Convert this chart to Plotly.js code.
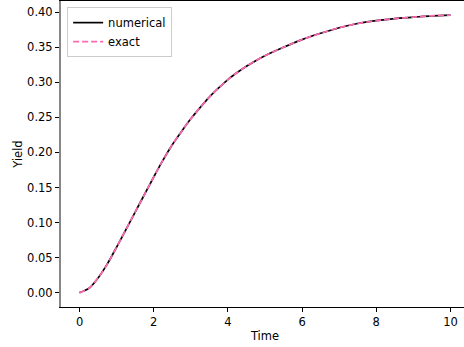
<!DOCTYPE html>
<html>
<head>
<meta charset="utf-8">
<script src="https://cdn.plot.ly/plotly-3.0.1.min.js"></script>
<style>
html, body { margin: 0; padding: 0; overflow: hidden; background: #fff; }
#chart { width: 470px; height: 347px; }
</style>
</head>
<body>
<div id="chart"></div>
<script>
var time = [0, 0.25, 0.5, 0.75, 1.0, 1.25, 1.5, 1.75, 2.0, 2.25, 2.5, 2.75, 3.0, 3.25, 3.5, 3.75, 4.0, 4.25, 4.5, 4.75, 5.0, 5.5, 6.0, 6.5, 7.0, 7.5, 8.0, 8.5, 9.0, 9.5, 10.0];
var numerical = [0, 0.006, 0.021, 0.041, 0.065, 0.090, 0.115, 0.140, 0.165, 0.189, 0.211, 0.230, 0.248, 0.264, 0.279, 0.292, 0.304, 0.314, 0.323, 0.331, 0.338, 0.350, 0.361, 0.370, 0.378, 0.384, 0.388, 0.391, 0.393, 0.395, 0.396];
var exact = [0, 0.006, 0.021, 0.041, 0.065, 0.090, 0.115, 0.140, 0.165, 0.189, 0.211, 0.230, 0.248, 0.264, 0.279, 0.292, 0.304, 0.314, 0.323, 0.331, 0.338, 0.350, 0.361, 0.370, 0.378, 0.384, 0.388, 0.391, 0.393, 0.395, 0.396];
var xTicks = [0, 2, 4, 6, 8, 10];
var yTicks = [0.00, 0.05, 0.10, 0.15, 0.20, 0.25, 0.30, 0.35, 0.40];

var font = { family: "DejaVu Sans", size: 11.5, color: "#000" };

var traces = [
  { x: time, y: numerical, name: "numerical", mode: "lines",
    line: { color: "#000000", width: 1.7, shape: "spline", smoothing: 0.8 } },
  { x: time, y: exact, name: "exact", mode: "lines",
    line: { color: "#ff69b4", width: 1.7, dash: "6px,3px", shape: "spline", smoothing: 0.8 } }
];

var layout = {
  width: 470, height: 347,
  margin: { l: 61, r: 1, t: 1, b: 40, pad: 0 },
  paper_bgcolor: "#fff", plot_bgcolor: "#fff",
  font: font,
  showlegend: true,
  legend: {
    x: 0.015, y: 0.98, xanchor: "left", yanchor: "top",
    bgcolor: "rgba(255,255,255,0.8)", bordercolor: "#cccccc", borderwidth: 1,
    font: font, itemwidth: 30, tracegroupgap: 0
  },
  xaxis: {
    range: [-0.5, 10.5], tickvals: xTicks, ticktext: xTicks.map(String),
    ticks: "outside", ticklen: 4, tickwidth: 1, tickcolor: "#000",
    showline: true, linecolor: "#000", linewidth: 1, mirror: true,
    showgrid: false, zeroline: false, tickfont: font,
    title: { text: "Time", font: font, standoff: 4 }
  },
  yaxis: {
    range: [-0.0205, 0.4161], tickvals: yTicks, ticktext: yTicks.map(function (v) { return v.toFixed(2); }),
    ticks: "outside", ticklen: 4, tickwidth: 1, tickcolor: "#000",
    showline: true, linecolor: "#888888", linewidth: 2, mirror: false,
    showgrid: false, zeroline: false, tickfont: font,
    title: { text: "Yield", font: font, standoff: 2 }
  }
};

Plotly.newPlot("chart", traces, layout, { displayModeBar: false, staticPlot: true });
</script>
</body>
</html>
